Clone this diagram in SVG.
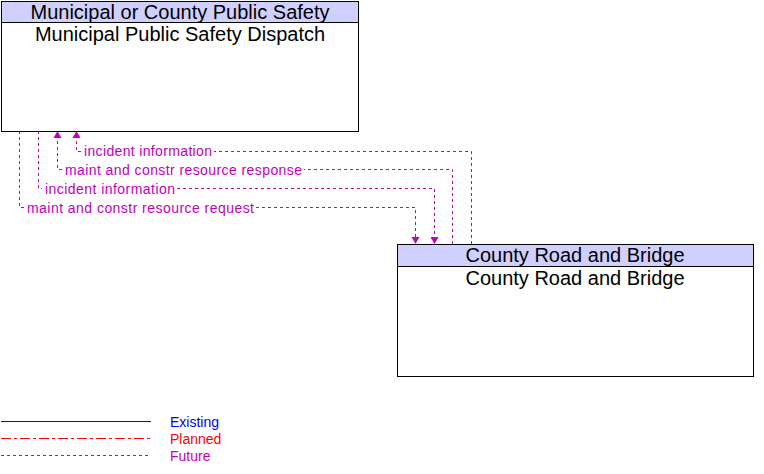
<svg xmlns="http://www.w3.org/2000/svg" width="764" height="474" viewBox="0 0 764 474">
<style>
.box{fill:#fff;stroke:#000;stroke-width:1}
.hdr{fill:#d0d0ff;stroke:#000;stroke-width:1}
.nt{font-family:"Liberation Sans",Arial,sans-serif;font-size:20px;fill:#000;text-anchor:middle}
.fl{fill:none;stroke:#c000c0;stroke-width:1;stroke-dasharray:3,3}
.fa{fill:#c000c0;stroke:none}
.lb{font-family:"Liberation Sans",Arial,sans-serif;font-size:14px;fill:#c000c0}
.lg{font-family:"Liberation Sans",Arial,sans-serif;font-size:14px}
</style>
<rect width="764" height="474" fill="#fff"/>
<g id="node-municipal">
<rect class="box" x="1.5" y="1.5" width="357" height="130"/>
<rect class="hdr" x="1.5" y="1.5" width="357" height="21"/>
<text class="nt" x="180" y="19">Municipal or County Public Safety</text>
<text class="nt" x="180" y="41">Municipal Public Safety Dispatch</text>
</g>
<g id="node-county">
<rect class="box" x="397.5" y="244.5" width="356" height="132"/>
<rect class="hdr" x="397.5" y="244.5" width="356" height="22"/>
<text class="nt" x="575" y="262">County Road and Bridge</text>
<text class="nt" x="575" y="285">County Road and Bridge</text>
</g>
<g id="connectors">
<!-- incident information (County -> Municipal) -->
<path class="fl" d="M471.5,244 V151.5 H214 M81,151.5 H76.5 V138"/>
<polygon class="fa" points="76.5,131 72.5,138 80.5,138"/>
<text class="lb" x="84" y="156" textLength="128" lengthAdjust="spacing">incident information</text>
<!-- maint and constr resource response (County -> Municipal) -->
<path class="fl" d="M452.5,244 V169.5 H304 M62,169.5 H57.5 V138"/>
<polygon class="fa" points="57.5,131 53.5,138 61.5,138"/>
<text class="lb" x="65" y="174.5" textLength="237" lengthAdjust="spacing">maint and constr resource response</text>
<!-- incident information (Municipal -> County) -->
<path class="fl" d="M38.5,131 V188.5 H42 M177,188.5 H434.5 V237"/>
<polygon class="fa" points="434.5,244 430.5,237 438.5,237"/>
<text class="lb" x="45" y="193.5" textLength="130" lengthAdjust="spacing">incident information</text>
<!-- maint and constr resource request (Municipal -> County) -->
<path class="fl" d="M19.5,131 V207.5 H24 M256,207.5 H415.5 V237"/>
<polygon class="fa" points="415.5,244 411.5,237 419.5,237"/>
<text class="lb" x="27" y="212.5" textLength="227" lengthAdjust="spacing">maint and constr resource request</text>
</g>
<g id="legend">
<line x1="1" y1="421.5" x2="151" y2="421.5" stroke="#0000ff" stroke-width="1"/>
<line x1="1" y1="438.5" x2="151" y2="438.5" stroke="#ff0000" stroke-width="1" stroke-dasharray="10,3,3,3"/>
<line x1="1" y1="455.5" x2="151" y2="455.5" stroke="#c000c0" stroke-width="1" stroke-dasharray="3,3"/>
<text class="lg" x="170" y="427" fill="#0000ff">Existing</text>
<text class="lg" x="170" y="444" fill="#ff0000">Planned</text>
<text class="lg" x="170" y="461" fill="#c000c0">Future</text>
</g>
</svg>
